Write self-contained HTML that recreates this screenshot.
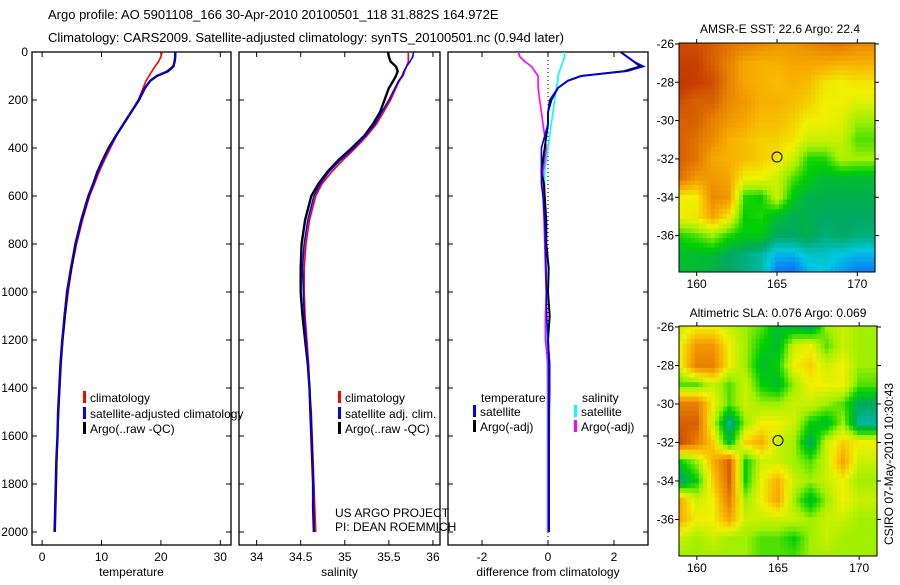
<!DOCTYPE html>
<html><head><meta charset="utf-8"><style>
body{margin:0;background:#fff;width:900px;height:580px;overflow:hidden}
svg text{font-family:"Liberation Sans",sans-serif;fill:#000}
</style></head><body>
<svg id="s" width="900" height="580" xmlns="http://www.w3.org/2000/svg">
<text x="48" y="19" font-size="13">Argo profile: AO 5901108_166 30-Apr-2010 20100501_118 31.882S 164.972E</text>
<text x="48" y="42" font-size="13">Climatology: CARS2009. Satellite-adjusted climatology: synTS_20100501.nc (0.94d later)</text>
<text x="335" y="517" font-size="12">US ARGO PROJECT</text>
<text x="335" y="531" font-size="12">PI: DEAN ROEMMICH</text>
<text x="780" y="33" font-size="12" text-anchor="middle">AMSR-E SST: 22.6 Argo: 22.4</text>
<text x="778" y="317" font-size="12" text-anchor="middle">Altimetric SLA: 0.076 Argo: 0.069</text>
<text transform="translate(893,545) rotate(-90)" font-size="12">CSIRO 07-May-2010 10:30:43</text>
</svg>
<script>
const depths=[0,20,40,60,80,100,120,150,200,250,300,350,400,450,500,550,600,700,800,900,1000,1100,1200,1300,1400,1500,1600,1700,1800,1900,2000];
const tempClim=[20.2,20,19.6,19,18.5,18,17.5,17,16.2,15,13.7,12.5,11.5,10.5,9.6,8.8,8,6.8,5.8,5,4.4,3.9,3.5,3.2,3,2.8,2.6,2.5,2.4,2.3,2.2];
const tempSat=[22.4,22.4,22.3,22,21,19.2,18.2,17.3,16.2,15,13.7,12.4,11.3,10.3,9.4,8.6,7.8,6.6,5.6,4.8,4.2,3.7,3.4,3.1,2.9,2.7,2.6,2.4,2.3,2.2,2.1];
const tempArgo=[22.4,22.4,22.3,22.1,21.2,19.3,18.2,17.3,16.3,15,13.7,12.4,11.2,10.2,9.3,8.6,7.8,6.6,5.6,4.9,4.2,3.8,3.4,3.1,2.9,2.7,2.6,2.4,2.3,2.2,2.1];
const salClim=[35.72,35.72,35.72,35.7,35.68,35.66,35.62,35.58,35.52,35.44,35.36,35.25,35.12,34.98,34.85,34.74,34.67,34.6,34.56,34.54,34.54,34.55,34.57,34.59,34.6,34.62,34.63,34.64,34.65,34.66,34.67];
const salSat=[35.78,35.77,35.74,35.7,35.67,35.65,35.61,35.57,35.5,35.42,35.34,35.23,35.1,34.95,34.82,34.72,34.65,34.58,34.54,34.52,34.53,34.54,34.56,34.58,34.6,34.61,34.62,34.63,34.64,34.64,34.65];
const salArgo=[35.49,35.5,35.52,35.58,35.6,35.58,35.55,35.5,35.45,35.4,35.32,35.22,35.08,34.93,34.8,34.7,34.62,34.55,34.51,34.5,34.5,34.52,34.55,34.58,34.6,34.61,34.62,34.63,34.64,34.64,34.65];
const dTempSat=[2.2,2.4,2.6,2.9,2.4,1.0,0.6,0.3,0.05,0,0,-0.1,-0.2,-0.2,-0.2,-0.2,-0.15,-0.1,-0.08,-0.06,-0.05,-0.04,0,0.05,0.05,0.04,0.04,0.03,0.03,0.03,0.03];
const dTempArgo=[2.2,2.4,2.6,2.8,2.3,1.0,0.6,0.3,0.1,0,0,-0.05,-0.1,-0.15,-0.2,-0.12,-0.1,-0.05,-0.05,0.02,0,0.05,0,0.04,0.04,0.03,0.03,0.03,0.03,0.03,0.03];
const dSalSat=[0.5,0.5,0.45,0.4,0.35,0.3,0.3,0.25,0.2,0.15,0.1,0.05,0,-0.05,-0.1,-0.1,-0.1,-0.1,-0.08,-0.06,-0.05,-0.05,-0.04,-0.03,-0.02,-0.02,-0.02,-0.02,-0.02,-0.02,-0.02];
const dSalArgo=[-0.9,-0.85,-0.7,-0.5,-0.4,-0.3,-0.3,-0.3,-0.25,-0.2,-0.15,-0.1,-0.05,-0.1,-0.15,-0.15,-0.15,-0.12,-0.1,-0.08,-0.05,-0.08,-0.08,0,0,0,0,0,0,0,0];
const depthTicks=[0,200,400,600,800,1000,1200,1400,1600,1800,2000];
const tempTicks=[0,10,20,30];
const salTicks=[34,34.5,35,35.5,36];
const diffTicks=[-2,0,2];
const mapLatTicks=[-26,-28,-30,-32,-34,-36];
const mapLonTicks=[160,165,170];
const sstGrid=[
[.88,.88,.85,.82,.8,.78,.75,.75,.78,.8,.82,.78],
[.9,.9,.85,.8,.72,.7,.7,.72,.72,.72,.7,.7],
[.92,.9,.88,.8,.72,.7,.68,.7,.68,.62,.6,.62],
[.88,.85,.85,.78,.75,.7,.7,.68,.65,.6,.6,.58],
[.85,.85,.8,.75,.72,.68,.68,.65,.6,.6,.58,.5],
[.85,.82,.78,.7,.68,.65,.65,.62,.55,.55,.55,.45],
[.85,.82,.72,.7,.68,.65,.62,.55,.42,.42,.52,.5],
[.82,.75,.75,.72,.6,.6,.55,.45,.38,.35,.35,.35],
[.6,.6,.78,.75,.42,.4,.55,.38,.32,.32,.32,.32],
[.6,.62,.72,.62,.4,.42,.35,.32,.32,.3,.3,.3],
[.42,.45,.5,.42,.38,.38,.3,.3,.32,.28,.3,.28],
[.35,.35,.35,.3,.28,.25,.18,.18,.22,.22,.2,.18],
[.35,.35,.32,.3,.28,.25,.12,.1,.18,.2,.15,.12]];
const slaGrid=[
[.55,.6,.6,.55,.5,.45,.35,.35,.3,.5,.55,.5],
[.6,.75,.75,.6,.5,.4,.35,.55,.6,.45,.55,.5],
[.6,.8,.8,.6,.5,.35,.4,.6,.65,.55,.6,.5],
[.45,.45,.55,.45,.55,.4,.35,.5,.6,.6,.6,.45],
[.8,.8,.6,.45,.55,.5,.5,.55,.55,.5,.45,.3],
[.85,.85,.55,.25,.5,.6,.6,.55,.4,.35,.5,.25],
[.88,.8,.65,.35,.65,.7,.55,.5,.3,.55,.65,.6],
[.4,.5,.7,.85,.4,.55,.55,.5,.45,.55,.72,.55],
[.28,.4,.65,.85,.4,.6,.7,.55,.5,.55,.6,.5],
[.7,.55,.6,.8,.5,.6,.72,.5,.35,.5,.6,.55],
[.7,.6,.6,.72,.55,.55,.55,.55,.5,.55,.55,.5],
[.55,.5,.55,.5,.5,.45,.45,.4,.5,.55,.5,.5],
[.5,.5,.5,.5,.5,.45,.45,.45,.5,.5,.5,.5]];
const floatLon=165, floatLat=-31.9;

const NS='http://www.w3.org/2000/svg', svg=document.getElementById('s');
function el(t,a,p){const e=document.createElementNS(NS,t);for(const k in a)e.setAttribute(k,a[k]);(p||svg).appendChild(e);return e;}
const yTop=52,yPx=0.24,yBot=545;
const yD=d=>yTop+d*yPx;
function panel(name,x0,x1,dmin,dmax,ticks,label,showDepth){
  const g=el('g',{});
  
  
  const X=v=>x0+(v-dmin)/(dmax-dmin)*(x1-x0);
  const r=el('rect',{x:x0,y:yTop,width:x1-x0,height:yBot-yTop,fill:'none',stroke:'#000','stroke-width':1.3},g);
  
  ticks.forEach(t=>{const x=X(t);el('line',{x1:x,x2:x,y1:yBot,y2:yBot-5,stroke:'#000'},g);el('line',{x1:x,x2:x,y1:yTop,y2:yTop+5,stroke:'#000'},g);
    const tx=el('text',{x:x,y:561,'font-size':12,'text-anchor':'middle'},g);tx.textContent=t;
    });
  depthTicks.forEach(d=>{const y=yD(d);el('line',{x1:x0,x2:x0+5,y1:y,y2:y,stroke:'#000'},g);el('line',{x1:x1,x2:x1-5,y1:y,y2:y,stroke:'#000'},g);
    if(showDepth){const tx=el('text',{x:x0-4,y:y+4,'font-size':12,'text-anchor':'end'},g);tx.textContent=d;
    }});
  const lb=el('text',{x:(x0+x1)/2,y:576,'font-size':12,'text-anchor':'middle'},g);lb.textContent=label;
  
  return {g,X};
}
function line(p,vals,color,w,name){
  const pts=vals.map((v,i)=>p.X(v).toFixed(1)+','+yD(depths[i]).toFixed(1)).join(' ');
  const l=el('polyline',{points:pts,fill:'none',stroke:color,'stroke-width':w},p.g);
  
}
function leg(g,x,y,color,text,name){
  el('rect',{x:x,y:y-11,width:3,height:12,fill:color},g);
  const t=el('text',{x:x+7,y:y,'font-size':12},g);t.textContent=text;
  
}
const p1=panel('temperature',32,231,-1.7,31.8,tempTicks,'temperature',true);
line(p1,tempClim,'#f00',1.6,'temp-climatology-line');
line(p1,tempArgo,'#000',2.4,'temp-argo-line');
line(p1,tempSat,'#00f',1.6,'temp-satellite-line');
leg(p1.g,83,402,'#f00','climatology','legend-climatology');
leg(p1.g,83,418,'#00f','satellite-adjusted climatology','legend-satellite-adjusted');
leg(p1.g,83,433,'#000','Argo(..raw -QC)','legend-argo');
const p2=panel('salinity',239,440,33.8,36.08,salTicks,'salinity',false);
line(p2,salClim,'#f00',1.6,'sal-climatology-line');
line(p2,salArgo,'#000',2.4,'sal-argo-line');
line(p2,salSat,'#00f',1.6,'sal-satellite-line');
leg(p2.g,338,402,'#f00','climatology','legend-sal-climatology');
leg(p2.g,338,418,'#00f','satellite adj. clim.','legend-sal-satellite');
leg(p2.g,338,433,'#000','Argo(..raw -QC)','legend-sal-argo');
const p3=panel('difference',448,648,-3.03,3.03,diffTicks,'difference from climatology',false);
el('line',{x1:p3.X(0),x2:p3.X(0),y1:yTop,y2:yBot,stroke:'#000','stroke-dasharray':'1,3'},p3.g);
line(p3,dSalSat,'#0ff',1.6,'diff-sal-satellite-line');
line(p3,dSalArgo,'#f0f',1.6,'diff-sal-argo-line');
line(p3,dTempArgo,'#000',2,'diff-temp-argo-line');
line(p3,dTempSat,'#00f',1.6,'diff-temp-satellite-line');
const t1=el('text',{x:481,y:402,'font-size':12},p3.g);t1.textContent='temperature';

const t2=el('text',{x:582,y:402,'font-size':12},p3.g);t2.textContent='salinity';

leg(p3.g,473,416,'#00f','satellite','legend-diff-temp-satellite');
leg(p3.g,473,431,'#000','Argo(-adj)','legend-diff-temp-argo');
leg(p3.g,574,416,'#0ff','satellite','legend-diff-sal-satellite');
leg(p3.g,574,431,'#f0f','Argo(-adj)','legend-diff-sal-argo');

const stops=[[0.05,[0,60,255]],[0.1,[16,96,255]],[0.2,[0,200,224]],[0.3,[0,168,96]],[0.4,[0,208,0]],[0.5,[160,240,0]],[0.6,[240,240,0]],[0.7,[248,176,0]],[0.8,[232,128,0]],[0.9,[200,64,0]],[1,[170,30,0]]];
function cmap(v){v=Math.max(0.05,Math.min(1,v));for(let i=1;i<stops.length;i++){if(v<=stops[i][0]){const a=stops[i-1],b=stops[i],f=(v-a[0])/(b[0]-a[0]);return 'rgb('+a[1].map((c,k)=>Math.round(c+(b[1][k]-c)*f)).join(',')+')';}}return 'rgb(170,30,0)';}
function map(name,grid,x0,x1,y0,y1){
  const g=el('g',{});
  
  
  const lon0=158.9,lon1=171.1,lat0=-25.95,lat1=-37.9;
  const X=l=>x0+(l-lon0)/(lon1-lon0)*(x1-x0), Y=l=>y0+(l-lat0)/(lat1-lat0)*(y1-y0);
  const step=0.25;
  for(let lat=-26;lat>-38;lat-=step){for(let lon=159;lon<171.1;lon+=step){
    const r=Math.min(12,(-26-lat)),c=Math.min(11,lon-159);
    const r0=Math.floor(r),c0=Math.floor(c),r1=Math.min(12,r0+1),c1=Math.min(11,c0+1),fr=r-r0,fc=c-c0;
    const v=grid[r0][c0]*(1-fr)*(1-fc)+grid[r0][c1]*(1-fr)*fc+grid[r1][c0]*fr*(1-fc)+grid[r1][c1]*fr*fc;
    const xa=Math.max(x0,X(lon-step/2)),xb=Math.min(x1,X(lon+step/2)),ya=Math.max(y0,Y(lat+step/2)),yb=Math.min(y1,Y(lat-step/2));
    if(xb>xa&&yb>ya)el('rect',{x:xa.toFixed(1),y:ya.toFixed(1),width:(xb-xa+0.6).toFixed(1),height:(yb-ya+0.6).toFixed(1),fill:cmap(v)},g);
  }}
  el('rect',{x:x0,y:y0,width:x1-x0,height:y1-y0,fill:'none',stroke:'#000'},g);
  mapLatTicks.forEach(t=>{const y=Y(t);el('line',{x1:x0-4,x2:x0,y1:y,y2:y,stroke:'#000'},g);el('line',{x1:x1,x2:x1+4,y1:y,y2:y,stroke:'#000'},g);
    const tx=el('text',{x:x0-5,y:y+4,'font-size':12,'text-anchor':'end'},g);tx.textContent=t;
    });
  mapLonTicks.forEach(t=>{const x=X(t);el('line',{x1:x,x2:x,y1:y1,y2:y1+4,stroke:'#000'},g);el('line',{x1:x,x2:x,y1:y0-4,y2:y0,stroke:'#000'},g);
    const tx=el('text',{x:x,y:y1+16,'font-size':12,'text-anchor':'middle'},g);tx.textContent=t;
    });
  const c=el('circle',{cx:X(floatLon),cy:Y(floatLat),r:5,fill:'none',stroke:'#000'},g);
  
}
map('sst-map',sstGrid,679,875,43,272);
map('sla-map',slaGrid,679,877,326,556);
</script>
</body></html>
